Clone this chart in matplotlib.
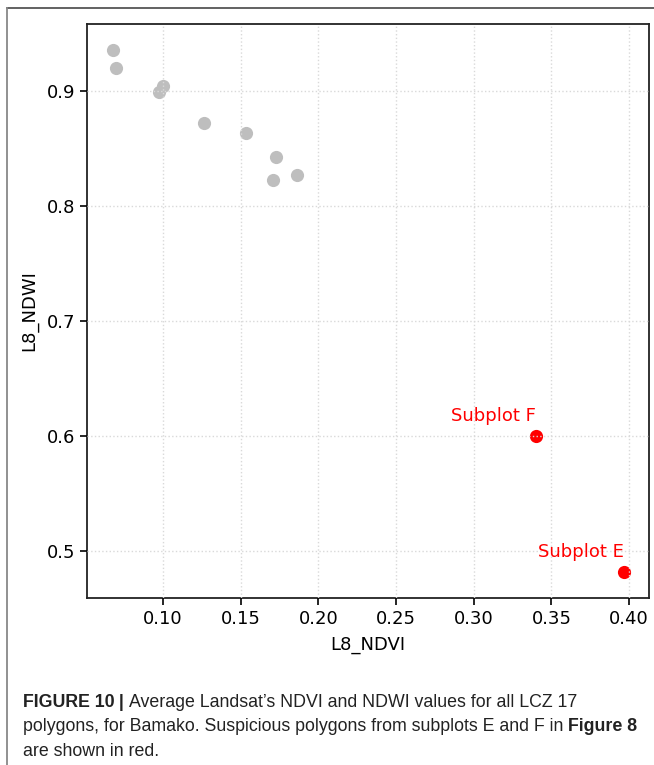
import matplotlib
matplotlib.use('Agg')
import matplotlib.pyplot as plt
from matplotlib.lines import Line2D

# values
ndvi_grey = [0.0678, 0.0698, 0.1000, 0.0972, 0.1266, 0.1534, 0.1730, 0.1706, 0.1865]
ndwi_grey = [0.9359, 0.9200, 0.9046, 0.8994, 0.8724, 0.8637, 0.8426, 0.8232, 0.8276]
ndvi_red = [0.3398, 0.3965]
ndwi_red = [0.6003, 0.4824]
red_labels = ['Subplot F', 'Subplot E']

xticks = [0.10, 0.15, 0.20, 0.25, 0.30, 0.35, 0.40]
yticks = [0.5, 0.6, 0.7, 0.8, 0.9]

caption = [
    [('FIGURE 10', 'bold'), (' | ', 'bold'),
     ('Average Landsat\u2019s NDVI and NDWI values for all LCZ 17', 'normal')],
    [('polygons, for Bamako. Suspicious polygons from subplots E and F in ', 'normal'),
     ('Figure 8', 'bold')],
    [('are shown in red.', 'normal')],
]

W, H = 654, 765
fig = plt.figure(figsize=(W / 100, H / 100), dpi=100)
ax = fig.add_axes([87.3 / W, 1 - 597.7 / H, (649.3 - 87.3) / W, (597.7 - 24) / H])

ax.scatter(ndvi_grey, ndwi_grey, s=90, color='#bebebe', linewidths=0, zorder=2)
ax.scatter(ndvi_red, ndwi_red, s=90, color='red', linewidths=0, zorder=2)
for x, y, t in zip(ndvi_red, ndwi_red, red_labels):
    ax.text(x, y + 0.013, t, color='red', ha='right', va='baseline', fontsize=13)

ax.set_xticks(xticks)
ax.set_xticklabels(['%.2f' % v for v in xticks])
ax.set_yticks(yticks)
ax.set_yticklabels(['%.1f' % v for v in yticks])
ax.tick_params(labelsize=13, length=5, width=1.2)
ax.set_xlabel('L8_NDVI', fontsize=13, labelpad=6)
ax.set_ylabel('L8_NDWI', fontsize=13, labelpad=6)
ax.grid(True, linestyle=':', color='#d9d9d9', linewidth=1.0)
ax.set_axisbelow(False)
for sp in ax.spines.values():
    sp.set_linewidth(1.3)
    sp.set_color('#222222')

# outer frame of the figure panel
fig.add_artist(Line2D([7 / W, 1.01], [1 - 8 / H, 1 - 8 / H], color='#555555', lw=1.3))
fig.add_artist(Line2D([7 / W, 7 / W], [1 - 8 / H, -0.01], color='#888888', lw=1.3))

# caption with bold runs
fig.canvas.draw()
r = fig.canvas.get_renderer()
baselines = [707, 731, 755.5]
for line, yb in zip(caption, baselines):
    x = 22.7
    for txt, wt in line:
        t = fig.text(x / W, 1 - yb / H, txt, fontsize=12.8, fontweight=wt,
                     family='Liberation Sans', color='#222222', va='baseline')
        bb = t.get_window_extent(renderer=r)
        x += bb.width

fig.savefig('out.png', dpi=100)
